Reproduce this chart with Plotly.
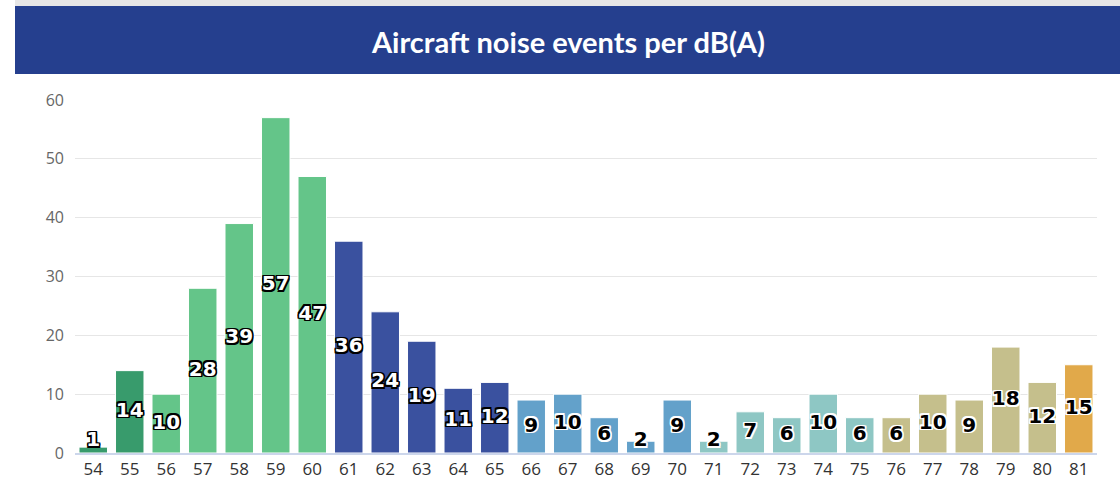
import plotly.graph_objects as go

# ---- data ----
levels = [str(v) for v in range(54, 82)]
events = [1, 14, 10, 28, 39, 57, 47, 36, 24, 19, 11, 12, 9, 10, 6, 2, 9, 2, 7, 6, 10, 6, 6, 10, 9, 18, 12, 15]
title_text = "Aircraft noise events per dB(A)"
y_ticks = [0, 10, 20, 30, 40, 50, 60]

# ---- styles ----
bar_colors = (["#389b6c"] * 2 + ["#64c589"] * 5 + ["#3a519f"] * 5 + ["#63a1ca"] * 5 +
              ["#8ec7c4"] * 5 + ["#c5bf8c"] * 5 + ["#e1a94a"])
label_colors = ["#ffffff"] * 12 + ["#000000"] * 16
W, H = 1120, 492
L, R, T, B = 75, 23, 100, 39
pw, ph = W - L - R, H - T - B

def px_to_paper_x(px):
    return (px - L) / pw

def px_to_paper_y(py):
    return (H - B - py) / ph

fig = go.Figure()
fig.add_trace(go.Bar(
    x=levels, y=events,
    marker=dict(color=bar_colors, line=dict(color="white", width=1)),
    hoverinfo="x+y",
))

def outline(c):
    return (f"-1.5px -1.5px 0 {c}, 1.5px -1.5px 0 {c}, -1.5px 1.5px 0 {c}, 1.5px 1.5px 0 {c}, "
            f"0 1.5px 0 {c}, 0 -1.5px 0 {c}, 1.5px 0 0 {c}, -1.5px 0 0 {c}")

# data labels: centered in bar, kept slightly above axis for tiny bars
label_y = [max(v / 2, 2) for v in events]
for col, oc in [("#ffffff", "#000"), ("#000000", "#fff")]:
    idx = [i for i, c in enumerate(label_colors) if c == col]
    fig.add_trace(go.Scatter(
        x=[levels[i] for i in idx], y=[label_y[i] for i in idx],
        text=[str(events[i]) for i in idx], mode="text",
        textposition="middle center",
        textfont=dict(family="DejaVu Sans", size=20, color=col, weight="bold", shadow=outline(oc)),
        hoverinfo="skip", showlegend=False,
    ))

# header band
fig.add_shape(type="rect", xref="paper", yref="paper",
              x0=px_to_paper_x(15), x1=px_to_paper_x(1120), y0=px_to_paper_y(0), y1=px_to_paper_y(6),
              fillcolor="#e6e6e6", line=dict(width=0), layer="below")
fig.add_shape(type="rect", xref="paper", yref="paper",
              x0=px_to_paper_x(15), x1=px_to_paper_x(1120), y0=px_to_paper_y(6), y1=px_to_paper_y(74),
              fillcolor="#253f8e", line=dict(width=0), layer="below")
fig.add_annotation(text=title_text, xref="paper", yref="paper",
                   x=px_to_paper_x(567.5), y=px_to_paper_y(41), xanchor="center", yanchor="middle",
                   showarrow=False, font=dict(family="Lato", size=29, color="white", weight="bold"))

fig.update_layout(
    width=W, height=H,
    margin=dict(l=L, r=R, t=T, b=B),
    paper_bgcolor="white", plot_bgcolor="white",
    showlegend=False, bargap=0.22,
    xaxis=dict(type="category", range=[-0.5, len(levels) - 0.5], showline=True,
               linecolor="#ccd6eb", linewidth=2,
               tickfont=dict(family="Open Sans", size=17, color="#333333"),
               ticks="", showgrid=False, fixedrange=True),
    yaxis=dict(range=[0, 60], tickvals=y_ticks, showgrid=True, gridcolor="#e6e6e6", gridwidth=1,
               zeroline=False, ticks="", ticklabelstandoff=10,
               tickfont=dict(family="Open Sans", size=16, color="#666666")),
)

fig.write_html("out.html", config={"displayModeBar": False},
               post_script="document.body.style.margin='0';")
